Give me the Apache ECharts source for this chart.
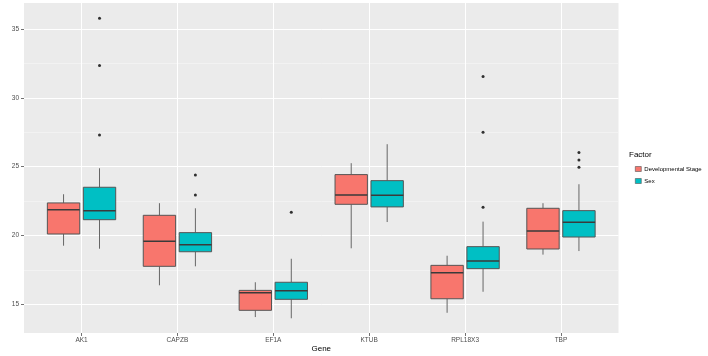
<!DOCTYPE html>
<html>
<head>
<meta charset="utf-8">
<script src="https://cdn.jsdelivr.net/npm/echarts@6/dist/echarts.min.js"></script>
<style>html,body{margin:0;padding:0;background:#fff}#c{width:708px;height:356px}</style>
</head>
<body>
<div id="c"></div>
<script>
// ---- data ----
const genes = ['AK1', 'CAPZB', 'EF1A', 'KTUB', 'RPL18X3', 'TBP'];
const factors = ['Developmental Stage', 'Sex'];
const yTicks = [15, 20, 25, 30, 35];
const yMinor = [17.5, 22.5, 27.5, 32.5];
// [min whisker, Q1, median, Q3, max whisker] per gene
const devStageBoxes = [
  [19.25, 20.10, 21.87, 22.36, 22.99],
  [16.37, 17.75, 19.57, 21.46, 22.34],
  [14.06, 14.55, 15.83, 16.00, 16.59],
  [19.06, 22.26, 22.94, 24.42, 25.25],
  [14.37, 15.39, 17.29, 17.82, 18.52],
  [18.60, 19.01, 20.32, 21.97, 22.34]
];
const sexBoxes = [
  [19.03, 21.14, 21.80, 23.50, 24.88],
  [17.75, 18.81, 19.32, 20.20, 21.97],
  [13.97, 15.35, 15.98, 16.59, 18.30],
  [20.97, 22.07, 22.92, 23.98, 26.63],
  [15.90, 17.58, 18.14, 19.18, 21.00],
  [18.86, 19.88, 20.95, 21.80, 23.72]
];
const devStageOutliers = [[], [], [], [], [], []];
const sexOutliers = [
  [35.80, 32.35, 27.30],
  [24.40, 22.94],
  [21.68],
  [],
  [31.55, 27.50, 22.05],
  [26.02, 25.49, 24.96]
];

// ---- styling / layout ----
const COLORS = ['#F8766D', '#00BFC4'];
const DODGE = 0.1875;
const BOX_W = 0.3375;
const FONT = 'Liberation Sans, Arial, sans-serif';

function boxData(boxes) {
  return boxes.map((b, i) => [i + 1].concat(b));
}
function outlierData(outs, off) {
  const res = [];
  outs.forEach((arr, i) => arr.forEach(v => res.push([i + 1 + off, v])));
  return res;
}
function makeRender(off, color) {
  return function (params, api) {
    const x = api.value(0) + off;
    const lo = api.value(1), q1 = api.value(2), med = api.value(3), q3 = api.value(4), hi = api.value(5);
    const tl = api.coord([x - BOX_W / 2, q3]);
    const br = api.coord([x + BOX_W / 2, q1]);
    const cHi = api.coord([x, hi]);
    const cQ3 = api.coord([x, q3]);
    const cQ1 = api.coord([x, q1]);
    const cLo = api.coord([x, lo]);
    const mL = api.coord([x - BOX_W / 2, med]);
    const mR = api.coord([x + BOX_W / 2, med]);
    const wStyle = { stroke: '#666', lineWidth: 1, fill: null };
    return {
      type: 'group',
      children: [
        { type: 'line', shape: { x1: cHi[0], y1: cHi[1], x2: cQ3[0], y2: cQ3[1] }, style: wStyle },
        { type: 'line', shape: { x1: cQ1[0], y1: cQ1[1], x2: cLo[0], y2: cLo[1] }, style: wStyle },
        { type: 'rect', shape: { x: tl[0], y: tl[1], width: br[0] - tl[0], height: br[1] - tl[1] },
          style: { fill: color, stroke: '#555', lineWidth: 1 } },
        { type: 'line', shape: { x1: mL[0], y1: mL[1], x2: mR[0], y2: mR[1] },
          style: { stroke: '#3a3a3a', lineWidth: 1.5 } }
      ]
    };
  };
}

const chart = echarts.init(document.getElementById('c'), null, { renderer: 'canvas' });
chart.setOption({
  animation: false,
  backgroundColor: '#ffffff',
  textStyle: { fontFamily: FONT },
  title: {
    text: 'Factor', left: 629, top: 151, padding: 0,
    textStyle: { fontSize: 8, fontWeight: 'normal', color: '#000', fontFamily: FONT }
  },
  legend: {
    data: factors, orient: 'vertical', left: 635, top: 166, padding: 0,
    itemWidth: 6, itemHeight: 5, itemGap: 6,
    textStyle: { fontSize: 6, color: '#000', fontFamily: FONT, padding: [0, 0, 0, -2] },
    itemStyle: { borderColor: '#555', borderWidth: 0.6 },
    icon: 'rect'
  },
  grid: {
    left: 24, right: 89.5, top: 3, bottom: 23,
    outerBoundsMode: 'none', containLabel: false,
    show: true, backgroundColor: '#EBEBEB', borderWidth: 0
  },
  xAxis: {
    type: 'value', min: 0.4, max: 6.6,
    name: 'Gene', nameLocation: 'middle', nameGap: 12, nameMoveOverlap: false,
    nameTextStyle: { fontSize: 8, color: '#000', fontFamily: FONT },
    axisLine: { show: false },
    axisTick: { show: true, length: 3, customValues: genes.map((g, i) => i + 1), lineStyle: { color: '#4D4D4D', width: 0.8 } },
    axisLabel: { customValues: genes.map((g, i) => i + 1), formatter: v => genes[Math.round(v) - 1] || '',
      fontSize: 6.5, color: '#4D4D4D', margin: 4, fontFamily: FONT },
    splitLine: { show: true, lineStyle: { color: '#ffffff', width: 1 } }
  },
  yAxis: [{
    type: 'value', min: 12.9, max: 36.9,
    name: 'Ct', nameLocation: 'middle', nameGap: 15, nameRotate: 90,
    nameTextStyle: { fontSize: 8, color: '#000', fontFamily: FONT },
    axisLine: { show: false },
    axisTick: { show: true, length: 3, customValues: yTicks, lineStyle: { color: '#4D4D4D', width: 0.8 } },
    axisLabel: { customValues: yTicks, fontSize: 6.5, color: '#4D4D4D', margin: 5, fontFamily: FONT },
    splitLine: { show: true, lineStyle: { color: '#ffffff', width: 1 } }
  }, {
    type: 'value', min: 12.9, max: 36.9, position: 'left',
    axisLine: { show: false },
    axisTick: { show: false, customValues: yMinor },
    axisLabel: { show: false, customValues: yMinor },
    splitLine: { show: true, lineStyle: { color: '#F7F7F7', width: 0.6 } }
  }],
  series: [
    { name: factors[0], type: 'custom', data: boxData(devStageBoxes), itemStyle: { color: COLORS[0] },
      encode: { x: 0, y: [1, 2, 3, 4, 5] }, renderItem: makeRender(-DODGE, COLORS[0]), z: 3 },
    { name: factors[1], type: 'custom', data: boxData(sexBoxes), itemStyle: { color: COLORS[1] },
      encode: { x: 0, y: [1, 2, 3, 4, 5] }, renderItem: makeRender(DODGE, COLORS[1]), z: 3 },
    { name: 'out-dev', type: 'scatter', data: outlierData(devStageOutliers, -DODGE),
      symbolSize: 3, itemStyle: { color: '#000' }, z: 4 },
    { name: 'out-sex', type: 'scatter', data: outlierData(sexOutliers, DODGE),
      symbolSize: 3, itemStyle: { color: '#000' }, z: 4 }
  ]
});
</script>
</body>
</html>
